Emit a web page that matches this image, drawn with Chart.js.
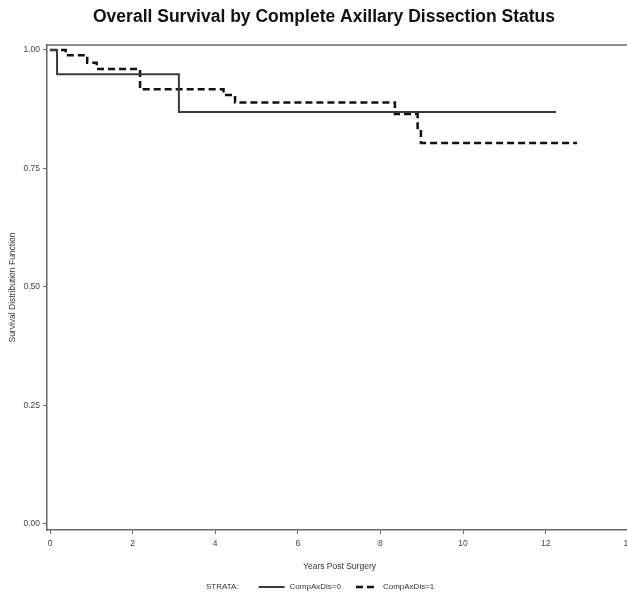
<!DOCTYPE html>
<html>
<head>
<meta charset="utf-8">
<script src="https://cdn.jsdelivr.net/npm/chart.js@4"></script>
<style>
  html, body { margin: 0; padding: 0; background: #fff; overflow: hidden; width: 627px; height: 596px; }
  #wrap { width: 627px; height: 596px; overflow: hidden; position: relative; }
  canvas { display: block; }
</style>
</head>
<body>
<div id="wrap"><canvas id="c" width="650" height="596"></canvas></div>
<script>
// ---- data ----
const TITLE = 'Overall Survival by Complete Axillary Dissection Status';
const X_TITLE = 'Years Post Surgery';
const Y_TITLE = 'Survival Distribution Function';
const LEGEND_TITLE = 'STRATA:';
const SERIES_LABELS = ['CompAxDis=0', 'CompAxDis=1'];

// CompAxDis=0 : event times (years) and survival after each step
const times0 = [0, 0.17, 3.12, 12.25];
const surv0  = [1.0, 0.949, 0.869, 0.869];

// CompAxDis=1
const times1 = [0, 0.38, 0.90, 1.13, 2.18, 4.20, 4.48, 8.35, 8.90, 8.98, 12.76];
const surv1  = [1.0, 0.989, 0.973, 0.960, 0.917, 0.905, 0.889, 0.865, 0.832, 0.804, 0.804];

const X_TICKS = [0, 2, 4, 6, 8, 10, 12, 14];
const Y_TICKS = [0, 0.25, 0.5, 0.75, 1.0];

// ---- build ----
const FONT = "'Liberation Sans Narrow', 'Arial Narrow', 'Liberation Sans', Arial, sans-serif";
const toPts = (xs, ys) => xs.map((x, i) => ({ x: x, y: ys[i] }));

const frameTop = {
  id: 'frameTop',
  afterLayout(chart) {
    const t = chart.titleBlock;
    if (t) { t.left += 8; t.right += 8; }
  },
  afterDraw(chart) {
    const { ctx, chartArea } = chart;
    ctx.save();
    ctx.strokeStyle = '#666';
    ctx.lineWidth = 1.5;
    ctx.beginPath();
    ctx.moveTo(chartArea.left, chartArea.top);
    ctx.lineTo(chartArea.right, chartArea.top);
    ctx.stroke();
    ctx.restore();
  }
};

const strataLegend = {
  id: 'strataLegend',
  afterDraw(chart) {
    const { ctx } = chart;
    const y = 587;
    ctx.save();
    ctx.font = '8px ' + FONT;
    ctx.fillStyle = '#333';
    ctx.textBaseline = 'middle';
    ctx.textAlign = 'left';
    let x = 206;
    ctx.fillText(LEGEND_TITLE, x, y);
    x += ctx.measureText(LEGEND_TITLE).width + 20;
    chart.data.datasets.forEach((ds, i) => {
      const sampleW = i === 0 ? 26 : 22;
      ctx.strokeStyle = ds.borderColor;
      ctx.lineWidth = ds.borderWidth;
      ctx.setLineDash(ds.borderDash || []);
      ctx.beginPath();
      ctx.moveTo(x, y);
      ctx.lineTo(x + sampleW, y);
      ctx.stroke();
      ctx.setLineDash([]);
      x += sampleW + 5;
      ctx.fillText(ds.label, x, y);
      x += ctx.measureText(ds.label).width + 15;
    });
    ctx.restore();
  }
};

new Chart(document.getElementById('c'), {
  type: 'line',
  data: {
    datasets: [
      {
        label: SERIES_LABELS[0],
        data: toPts(times0, surv0),
        stepped: true,
        borderColor: '#3a3a3a',
        borderWidth: 2,
        pointRadius: 0,
        fill: false
      },
      {
        label: SERIES_LABELS[1],
        data: toPts(times1, surv1),
        stepped: true,
        borderColor: '#111',
        borderWidth: 2.5,
        borderDash: [7, 4],
        pointRadius: 0,
        fill: false
      }
    ]
  },
  options: {
    responsive: false,
    animation: false,
    devicePixelRatio: 1,
    layout: { padding: { left: 0, right: 18, top: 0, bottom: 0 } },
    plugins: {
      legend: { display: false },
      tooltip: { enabled: false },
      title: {
        display: true,
        text: TITLE,
        color: '#111',
        font: { family: FONT, size: 17.5, weight: 'bold', lineHeight: 1.2 },
        padding: { top: 7, bottom: 17 }
      }
    },
    scales: {
      x: {
        type: 'linear',
        min: -0.073,
        max: 14.09,
        afterBuildTicks(scale) { scale.ticks = X_TICKS.map(v => ({ value: v })); },
        afterFit(scale) { scale.height = 66; },
        ticks: {
          color: '#444',
          font: { family: FONT, size: 8.5 },
          padding: 5,
          maxRotation: 0,
          autoSkip: false,
          callback: v => String(v)
        },
        grid: { drawOnChartArea: false, drawTicks: true, tickLength: 4, color: '#666', tickWidth: 1 },
        border: { display: true, color: '#666', width: 1.5 },
        title: {
          display: true,
          text: X_TITLE,
          color: '#333',
          font: { family: FONT, size: 8.5, lineHeight: 1.2 },
          padding: { top: 0, bottom: 24 }
        }
      },
      y: {
        type: 'linear',
        min: -0.0127,
        max: 1.0105,
        afterBuildTicks(scale) { scale.ticks = Y_TICKS.map(v => ({ value: v })); },
        afterFit(scale) { scale.width = 47; },
        ticks: {
          color: '#444',
          font: { family: FONT, size: 8.5 },
          padding: 3,
          autoSkip: false,
          callback: v => Number(v).toFixed(2)
        },
        grid: { drawOnChartArea: false, drawTicks: true, tickLength: 4, color: '#666', tickWidth: 1 },
        border: { display: true, color: '#666', width: 1.5 },
        title: {
          display: true,
          text: Y_TITLE,
          color: '#333',
          font: { family: FONT, size: 8.5, lineHeight: 1.2 },
          padding: { top: 8, bottom: 0 }
        }
      }
    }
  },
  plugins: [frameTop, strataLegend]
});
</script>
</body>
</html>
